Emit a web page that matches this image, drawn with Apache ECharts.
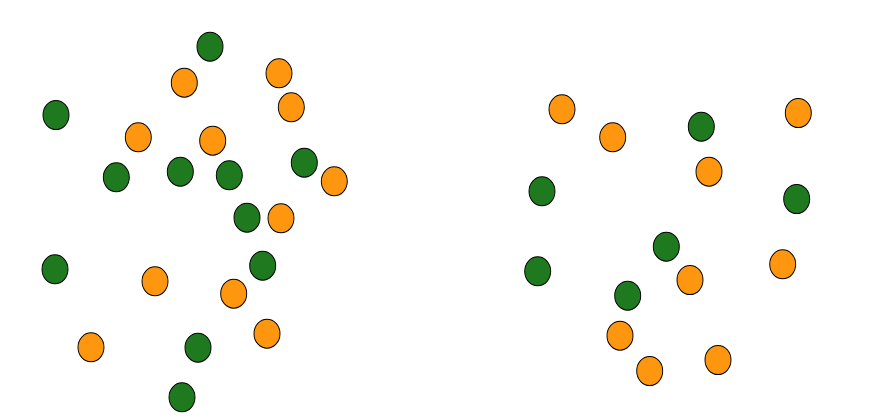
<!DOCTYPE html>
<html><head><meta charset="utf-8">
<script src="https://cdn.jsdelivr.net/npm/echarts@6/dist/echarts.min.js"></script>
<style>html,body{margin:0;padding:0;background:#fff}#c{width:880px;height:420px}</style>
</head><body><div id="c"></div>
<script>
// Left panel (local coordinates, 0..440 x 0..420, y downward)
const leftGreen = [[210,46.7],[56,115],[116.3,177.3],[180.3,171.7],[229.3,175.3],[304.3,162.7],[247,217.7],[55,269.3],[262.7,265.7],[198,347.7],[182,397.3]];
const leftOrange = [[184.3,82.7],[279,73.3],[291.3,107.3],[138.3,137.3],[212.7,140.7],[334.3,181.3],[281,218.3],[155,281.3],[233.7,293.7],[267,333.7],[91,347.3]];
// Right panel (local coordinates, offset by 440)
const rightGreen = [[261.3,126.7],[102,191.3],[356.7,199],[226.3,246.7],[97.7,271.3],[187.7,295.7]];
const rightOrange = [[122,109.3],[172.7,137.3],[358.3,113],[269,171.7],[342.7,264.3],[250,280],[180,335.7],[209.7,371],[278,360]];

const GREEN = '#1f7a1f', ORANGE = '#ff9610';
const chart = echarts.init(document.getElementById('c'), null, {renderer: 'canvas'});
const axX = i => ({type:'value', gridIndex:i, min:0, max:440, show:false});
const axY = i => ({type:'value', gridIndex:i, min:0, max:420, inverse:true, show:false});
const mk = (data, color, i) => ({
  type:'scatter', xAxisIndex:i, yAxisIndex:i, data,
  symbol:'circle', symbolSize:[26,29],
  itemStyle:{color, borderColor:'#000', borderWidth:1, opacity:1},
  emphasis:{disabled:true}, animation:false
});
chart.setOption({
  animation:false,
  grid:[{left:0, top:0, width:440, height:420},{left:440, top:0, width:440, height:420}],
  xAxis:[axX(0), axX(1)],
  yAxis:[axY(0), axY(1)],
  series:[mk(leftGreen,GREEN,0), mk(leftOrange,ORANGE,0), mk(rightGreen,GREEN,1), mk(rightOrange,ORANGE,1)]
});
</script></body></html>
